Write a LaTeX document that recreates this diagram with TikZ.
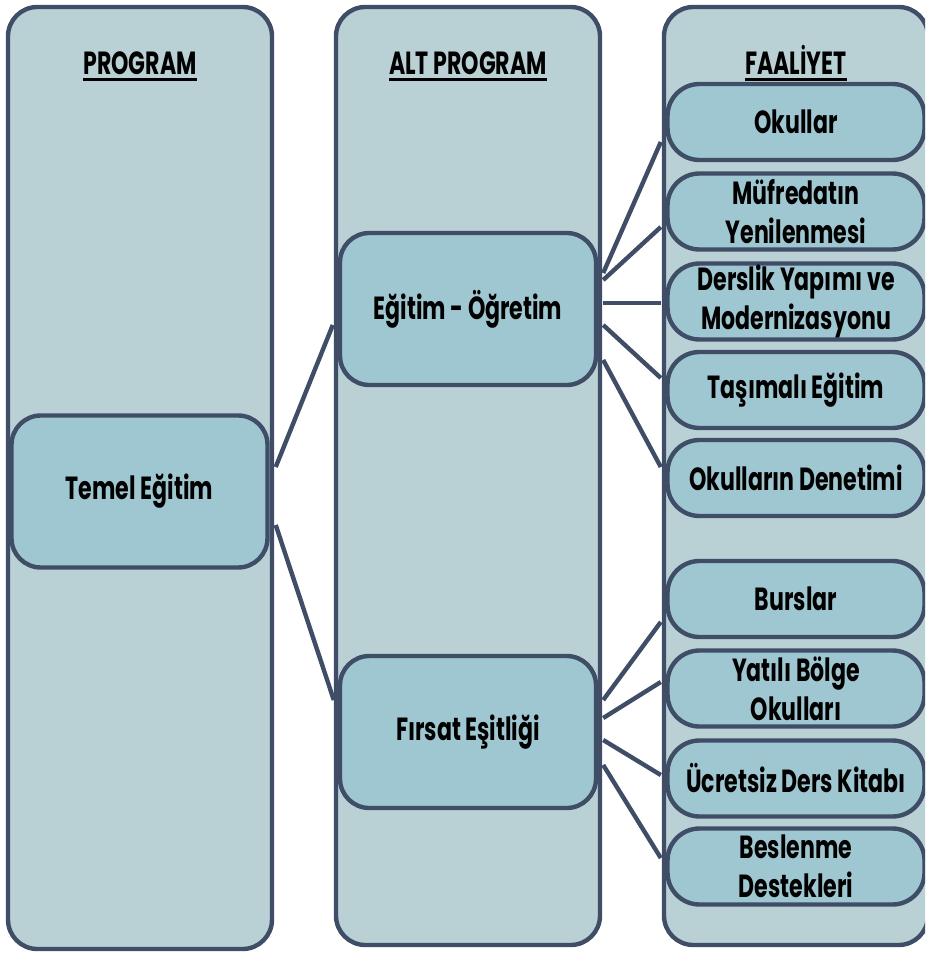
\documentclass[tikz,border=0pt]{standalone}
\usepackage{fontspec}
\setmainfont{Poppins}[FakeStretch=0.69]
\usetikzlibrary{calc}
\definecolor{edgeC}{RGB}{63,77,102}
\definecolor{colC}{RGB}{185,209,212}
\definecolor{boxC}{RGB}{159,199,209}
\newcommand{\myul}[1]{\setbox0\hbox{#1}\rlap{\raisebox{-4.5pt}{\rule{\wd0}{2.4pt}}}\box0}
\tikzset{
  txt/.style={font=\fontsize{24}{29}\selectfont\bfseries},
  colbox/.style={draw=edgeC, fill=colC, line width=3.3pt, rounded corners=22pt, minimum width={264*0.75pt}, inner sep=0pt},
  bigbox/.style={txt, draw=edgeC, fill=boxC, line width=3.3pt, rounded corners=22pt, minimum width={256*0.75pt}, minimum height={152*0.75pt}, align=center, inner sep=0pt},
  actbox/.style={txt, draw=edgeC, fill=boxC, line width=3.3pt, rounded corners=24pt, minimum width={257*0.75pt}, minimum height={76*0.75pt}, align=center, inner sep=0pt},
  head/.style={txt, inner sep=0pt, anchor=base},
  conn/.style={draw=edgeC, line width=3.3pt}
}
\begin{document}
\begin{tikzpicture}[x=0.75pt,y=-0.75pt]
\useasboundingbox (0,0) rectangle (925,955);
\clip (0,0) rectangle (925,955);
% columns
\node[colbox, minimum height={942*0.75pt}] (col1) at (140,478) {};
\node[colbox, minimum height={938*0.75pt}] (col2) at (468,476) {};
\node[colbox, minimum height={938*0.75pt}] (col3) at (796,476) {};
% headers
\node[head] (h1) at (140,75) {\myul{PROGRAM}};
\node[head] (h2) at (468,75) {\myul{ALT PROGRAM}};
\node[head] (h3) at (796,75) {\myul{FAALİYET}};
% boxes
\node[bigbox] (temel) at (139.5,491.5) {Temel Eğitim};
\node[bigbox] (egitim) at (468,309) {Eğitim - Öğretim};
\node[bigbox] (firsat) at (468,732) {Fırsat Eşitliği};
\node[actbox] (a1) at (796,122) {Okullar};
\node[actbox] (a2) at (796,211.5) {Müfredatın\\Yenilenmesi};
\node[actbox] (a3) at (796,301.5) {Derslik Yapımı ve\\Modernizasyonu};
\node[actbox] (a4) at (796,390) {Taşımalı Eğitim};
\node[actbox] (a5) at (796,478) {Okulların Denetimi};
\node[actbox] (b1) at (796,599) {Burslar};
\node[actbox] (b2) at (796,688.5) {Yatılı Bölge\\Okulları};
\node[actbox] (b3) at (796,778.5) {Ücretsiz Ders Kitabı};
\node[actbox] (b4) at (796,866.5) {Beslenme\\Destekleri};
% connectors
\draw[conn] ($(temel.east)+(6,-24.5)$) -- ($(egitim.west)+(-5,16)$);
\draw[conn] ($(temel.east)+(6,33.5)$) -- ($(firsat.west)+(-4,-32)$);
\draw[conn] ($(egitim.east)+(5,-36)$) -- ($(a1.west)+(-4.5,20)$);
\draw[conn] ($(egitim.east)+(5,-29)$) -- ($(a2.west)+(-4.5,15.5)$);
\draw[conn] ($(egitim.east)+(5,-6)$) -- ($(a3.west)+(-4.5,1.5)$);
\draw[conn] ($(egitim.east)+(5,16)$) -- ($(a4.west)+(-4.5,-12)$);
\draw[conn] ($(egitim.east)+(5,51)$) -- ($(a5.west)+(-4.5,-11)$);
\draw[conn] ($(firsat.east)+(5,-32)$) -- ($(b1.west)+(-4.5,23)$);
\draw[conn] ($(firsat.east)+(5,-14)$) -- ($(b2.west)+(-4.5,-6.5)$);
\draw[conn] ($(firsat.east)+(5,8)$) -- ($(b3.west)+(-4.5,-3.5)$);
\draw[conn] ($(firsat.east)+(5,33)$) -- ($(b4.west)+(-4.5,-8.5)$);
\end{tikzpicture}
\end{document}
